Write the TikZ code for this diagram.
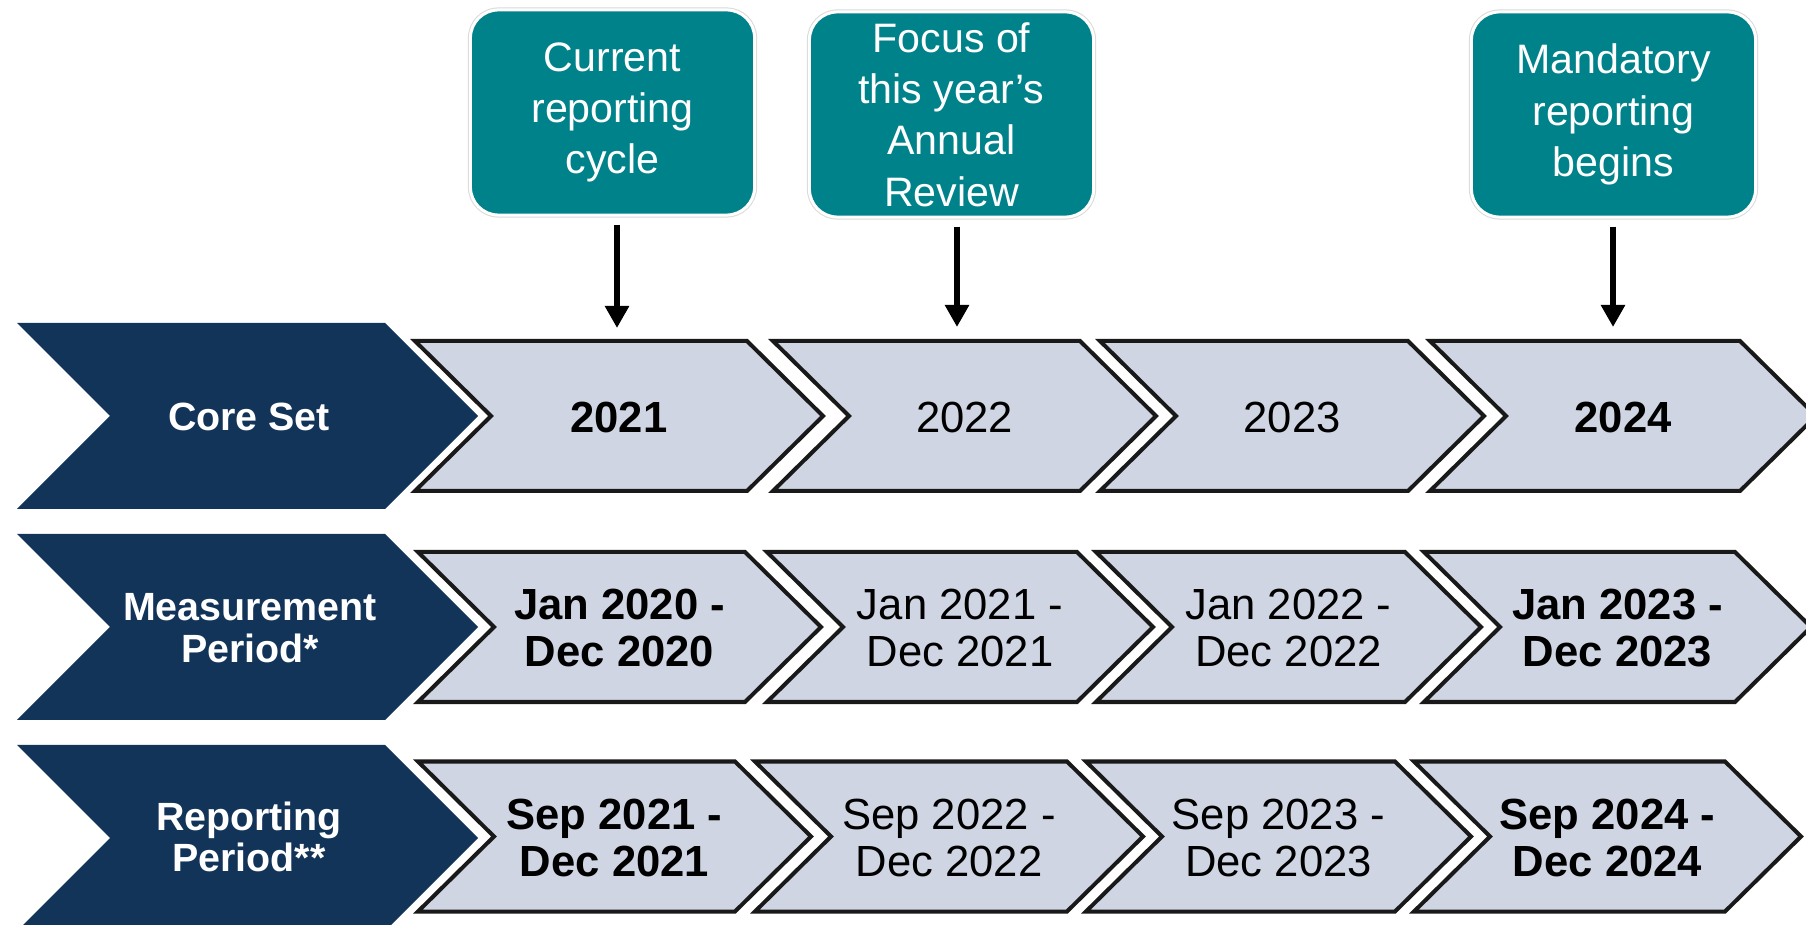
\documentclass[tikz,border=0pt]{standalone}
\usepackage{fontspec}
\setmainfont{Liberation Sans}
\usetikzlibrary{arrows.meta}
\definecolor{navy}{RGB}{19,52,89}
\definecolor{tealbox}{RGB}{0,130,138}
\definecolor{lightchev}{RGB}{207,213,226}
\newcommand{\lightchevron}[3]{% L R mid
  \draw[lchev] (#1,#3-75) -- (#2,#3-75) -- (#2+76,#3) -- (#2,#3+75) -- (#1,#3+75) -- (#1+76,#3) -- cycle;}
\newcommand{\darkchevron}[1]{% mid
  \fill[darkchev] (17,#1-93) -- (385,#1-93) -- (478,#1) -- (385,#1+93) -- (17,#1+93) -- (110,#1) -- cycle;}
\begin{document}
\begin{tikzpicture}[x=0.01cm,y=-0.01cm,
  darkchev/.style={fill=navy},
  lchev/.style={fill=lightchev, draw=black!90, line width=0.04cm, line join=miter},
  dtext/.style={text=white, font=\fontsize{11.2}{11.8}\selectfont\bfseries, align=center, inner sep=0},
  ctext/.style={text=black, font=\fontsize{12.4}{13.5}\selectfont, align=center, inner sep=0},
  cbold/.style={text=black, font=\fontsize{12.4}{13.5}\selectfont\bfseries, align=center, inner sep=0},
  topbox/.style={fill=tealbox, draw=white, line width=0.03cm, rounded corners=0.28cm,
    minimum width=2.84cm, minimum height=2.05cm, text=white, align=center,
    font=\fontsize{11.7}{14.6}\selectfont, inner sep=0,
    preaction={draw=black!15, line width=0.05cm}},
  arr/.style={-{Triangle[width=0.23cm,length=0.22cm]}, line width=0.065cm, shorten <=0.08cm}
]
\useasboundingbox (0,0) rectangle (1806,925);

% dark row headers
\darkchevron{416}
\darkchevron{627}
\darkchevron{838}
\node[dtext] (h1) at (249,417) {Core Set};
\node[dtext] (h2) at (250,628) {Measurement\\Period*};
\node[dtext] (h3) at (249,837) {Reporting\\Period**};

% row 1
\lightchevron{415}{747}{416}
\lightchevron{773}{1080}{416}
\lightchevron{1100}{1408}{416}
\lightchevron{1430}{1740}{416}
\node[cbold] (y21) at (619,417) {2021};
\node[ctext] (y22) at (964.5,417) {2022};
\node[ctext] (y23) at (1292,417) {2023};
\node[cbold] (y24) at (1623,417) {2024};

% row 2
\lightchevron{418}{745}{627}
\lightchevron{767}{1077}{627}
\lightchevron{1096}{1405}{627}
\lightchevron{1424}{1735}{627}
\node[cbold] (m20) at (619.5,628) {Jan 2020 -\\Dec 2020};
\node[ctext] (m21) at (960,628) {Jan 2021 -\\Dec 2021};
\node[ctext] (m22) at (1288.5,628) {Jan 2022 -\\Dec 2022};
\node[cbold] (m23) at (1617.5,628) {Jan 2023 -\\Dec 2023};

% row 3
\lightchevron{418}{735}{836.5}
\lightchevron{755}{1067}{836.5}
\lightchevron{1086}{1395}{836.5}
\lightchevron{1414}{1725}{836.5}
\node[cbold] (r21) at (614.5,838) {Sep 2021 -\\Dec 2021};
\node[ctext] (r22) at (949,838) {Sep 2022 -\\Dec 2022};
\node[ctext] (r23) at (1278.5,838) {Sep 2023 -\\Dec 2023};
\node[cbold] (r24) at (1607.5,838) {Sep 2024 -\\Dec 2024};

% top callouts
\node[topbox] (b1) at (612.5,112.5) {Current\\reporting\\cycle};
\node[topbox] (b2) at (951.5,114.5) {Focus of\\this year’s\\Annual\\Review};
\node[topbox] (b3) at (1613.5,114.5) {Mandatory\\reporting\\begins};

\coordinate (a1) at (617,328);
\coordinate (a2) at (957,327);
\coordinate (a3) at (1613,327);
\draw[arr] (b1.south -| a1) -- (a1);
\draw[arr] (b2.south -| a2) -- (a2);
\draw[arr] (b3.south -| a3) -- (a3);
\end{tikzpicture}
\end{document}
